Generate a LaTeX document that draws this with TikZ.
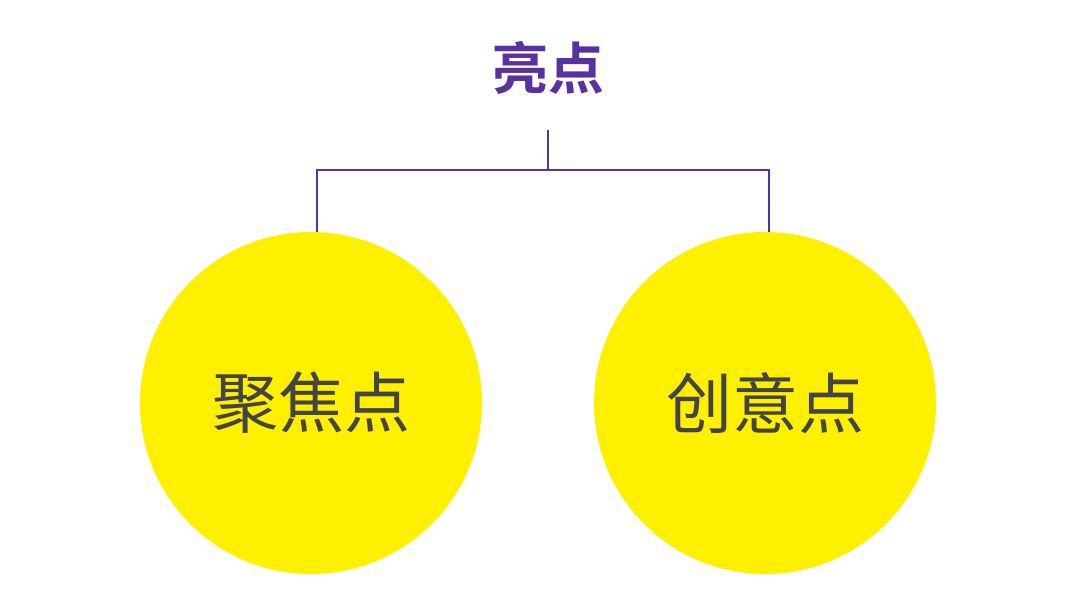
\documentclass[tikz,border=0pt]{standalone}
\usepackage{fontspec}
\newfontfamily\cjk{Noto Sans CJK SC}
\newfontfamily\cjkb{Noto Sans CJK SC Bold}
\definecolor{pur}{HTML}{5A32A0}
\definecolor{yel}{HTML}{FFF000}
\definecolor{txt}{HTML}{444444}
\begin{document}
\begin{tikzpicture}[x=1pt,y=-1pt,
  circ/.style={circle,fill=yel,minimum size=342pt,inner sep=0pt,text=txt,font=\cjk\fontsize{66}{70}\selectfont},
  link/.style={draw=pur,line width=2.5pt}]
\useasboundingbox (0,0) rectangle (1080,613);
\node[text=pur,font=\cjkb\fontsize{56}{60}\selectfont] (t) at (548,68) {亮点};
\node[circ] (l) at (311,403) {聚焦点};
\node[circ] (r) at (765,403) {创意点};
\coordinate (top) at (548,130);
\coordinate (mid) at (548,170);
\draw[link] (top) -- (mid);
\draw[link] (l.north -| 317,0) |- (mid) -| (r.north -| 769,0);
\end{tikzpicture}
\end{document}
